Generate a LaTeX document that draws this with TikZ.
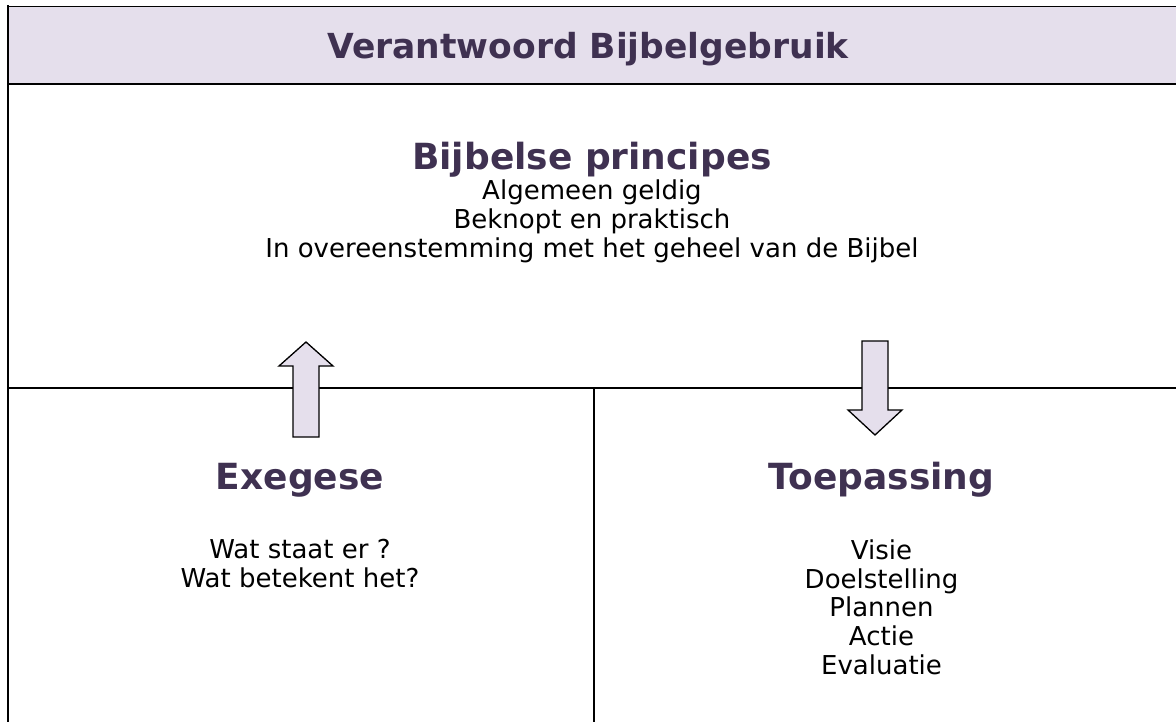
\documentclass[tikz,border=0pt]{standalone}
\usepackage{fontspec}
\setmainfont{DejaVu Sans}
\usetikzlibrary{positioning}
\definecolor{bandlilac}{HTML}{E5DFEC}
\definecolor{headpurple}{HTML}{3F3151}

\begin{document}
\begin{tikzpicture}[
    x=1pt, y=-1pt,
    frame/.style     = {line width=2.3pt},
    thinframe/.style = {line width=1.2pt},
    titletext/.style = {font=\fontsize{34.5}{40}\selectfont\bfseries,
                        text=headpurple, inner sep=0pt, anchor=base},
    headtext/.style  = {font=\fontsize{36}{42}\selectfont\bfseries,
                        text=headpurple, inner sep=0pt, anchor=base},
    bodytext/.style  = {font=\fontsize{26}{28.6}\selectfont,
                        align=center, inner sep=0pt},
    blockarr/.style  = {draw, fill=bandlilac, line width=1.3pt},
  ]
  \useasboundingbox (0,0) rectangle (1176,722);

  %% Title band
  \fill[bandlilac] (7.7,6.5) rectangle (1176,83.7);
  \draw[thinframe] (7.7,6.5) -- (1176,6.5);
  \draw[frame] (7.7,83.7) -- (1176,83.7);
  \node[titletext] (title) at (588,59) {Verantwoord Bijbelgebruik};

  %% Frame lines
  \draw[frame] (7.7,5.5) -- (7.7,722);
  \draw[frame] (7.7,387.7) -- (1176,387.7);
  \draw[frame] (593.7,387.7) -- (593.7,722);

  %% Principles
  \node[headtext] (princ) at (592,169.5) {Bijbelse principes};
  \node[bodytext, below=2.5pt of princ] (princtxt)
       {Algemeen geldig\\Beknopt en praktisch\\In overeenstemming met het geheel van de Bijbel};

  %% Exegesis
  \node[headtext] (exeg) at (300,489) {Exegese};
  \node[bodytext, below=42.5pt of exeg] (exegtxt) {Wat staat er ?\\Wat betekent het?};

  %% Application
  \node[headtext] (toep) at (881.5,489) {Toepassing};
  \node[bodytext, below=42.8pt of toep] (toeptxt)
       {Visie\\Doelstelling\\Plannen\\Actie\\Evaluatie};

  %% Block arrows
  \draw[blockarr] (306,342) -- (333,366) -- (319,366) -- (319,437)
                  -- (293,437) -- (293,366) -- (279,366) -- cycle;
  \draw[blockarr] (862,341) -- (888,341) -- (888,410) -- (902,410)
                  -- (875,435) -- (848,410) -- (862,410) -- cycle;

\end{tikzpicture}
\end{document}
